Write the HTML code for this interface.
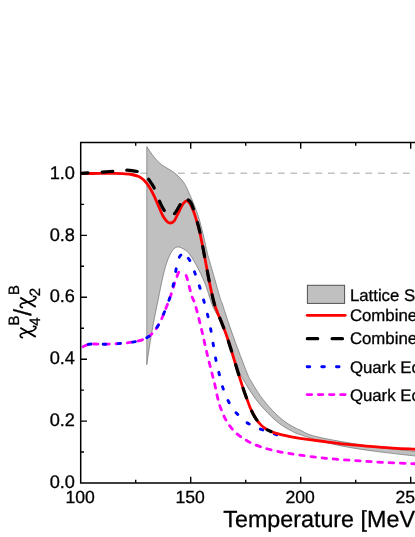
<!DOCTYPE html>
<html><head><meta charset="utf-8"><title>chart</title>
<style>
html,body{margin:0;padding:0;background:#fff;}
body{width:415px;height:537px;overflow:hidden;font-family:"Liberation Sans",sans-serif;}
svg{display:block;font-family:"Liberation Sans",sans-serif;text-rendering:geometricPrecision;}
text{stroke:#000;stroke-width:0.3px;}
</style></head><body>
<svg style="will-change:transform" width="415" height="537" viewBox="0 0 415 537">
<rect width="415" height="537" fill="#fff"/>
<defs><clipPath id="pc"><rect x="80.7" y="142.5" width="340" height="340.5"/></clipPath></defs>
<g clip-path="url(#pc)">
<path d="M81,173.25 H416" stroke="#c2c2c2" stroke-width="1.5" stroke-dasharray="6.75 5.75" stroke-dashoffset="3.05" fill="none"/>
<path d="M146.80,146.60 C147.37,147.47 148.92,149.98 150.20,151.80 C151.48,153.62 153.20,155.88 154.50,157.50 C155.80,159.12 156.80,160.28 158.00,161.50 C159.20,162.72 160.48,163.87 161.70,164.80 C162.92,165.73 164.10,166.37 165.30,167.10 C166.50,167.83 167.70,168.47 168.90,169.20 C170.10,169.93 171.30,170.65 172.50,171.50 C173.70,172.35 174.85,173.22 176.10,174.30 C177.35,175.38 178.78,176.72 180.00,178.00 C181.22,179.28 182.32,180.45 183.40,182.00 C184.48,183.55 185.53,185.40 186.50,187.30 C187.47,189.20 188.52,191.87 189.20,193.40 C189.88,194.93 189.97,195.07 190.60,196.50 C191.23,197.93 192.15,199.92 193.00,202.00 C193.85,204.08 194.77,206.50 195.70,209.00 C196.63,211.50 197.67,214.00 198.60,217.00 C199.53,220.00 200.47,223.83 201.30,227.00 C202.13,230.17 202.63,231.83 203.60,236.00 C204.57,240.17 206.22,248.22 207.10,252.00 C207.98,255.78 207.60,254.10 208.90,258.70 C210.20,263.30 213.03,273.05 214.90,279.60 C216.77,286.15 218.87,293.97 220.10,298.00 C221.33,302.03 220.82,299.43 222.30,303.80 C223.78,308.17 226.43,316.75 229.00,324.20 C231.57,331.65 234.57,340.08 237.70,348.50 C240.83,356.92 245.65,369.42 247.80,374.70 C249.95,379.98 248.53,376.70 250.60,380.20 C252.67,383.70 256.58,390.68 260.20,395.70 C263.82,400.72 268.28,406.05 272.30,410.30 C276.32,414.55 280.52,418.28 284.30,421.20 C288.08,424.12 292.38,426.33 295.00,427.80 C297.62,429.27 297.58,428.87 300.00,430.00 C302.42,431.13 305.52,433.22 309.50,434.60 C313.48,435.98 316.68,436.82 323.90,438.30 C331.12,439.78 343.15,441.92 352.80,443.50 C362.45,445.08 371.27,446.48 381.80,447.80 C392.33,449.12 410.30,450.80 416.00,451.40 L416.00,456.10 C410.30,455.43 392.33,453.45 381.80,452.10 C371.27,450.75 362.45,449.68 352.80,448.00 C343.15,446.32 332.70,444.23 323.90,442.00 C315.10,439.77 305.38,436.43 300.00,434.60 C294.62,432.77 295.02,432.83 291.60,431.00 C288.18,429.17 283.52,426.65 279.50,423.60 C275.48,420.55 271.55,416.90 267.50,412.70 C263.45,408.50 258.88,403.32 255.20,398.40 C251.52,393.48 248.20,387.95 245.40,383.20 C242.60,378.45 241.17,376.53 238.40,369.90 C235.63,363.27 231.63,351.30 228.80,343.40 C225.97,335.50 223.70,327.90 221.40,322.50 C219.10,317.10 216.47,313.75 215.00,311.00 C213.53,308.25 213.50,308.25 212.60,306.00 C211.70,303.75 210.45,300.07 209.60,297.50 C208.75,294.93 208.23,292.83 207.50,290.60 C206.77,288.37 205.95,286.07 205.20,284.10 C204.45,282.13 203.75,280.53 203.00,278.80 C202.25,277.07 201.57,275.50 200.70,273.70 C199.83,271.90 198.78,269.87 197.80,268.00 C196.82,266.13 195.93,264.47 194.80,262.50 C193.67,260.53 192.25,258.02 191.00,256.20 C189.75,254.38 188.55,252.80 187.30,251.60 C186.05,250.40 184.72,249.72 183.50,249.00 C182.28,248.28 180.98,247.63 180.00,247.30 C179.02,246.97 178.43,246.88 177.60,247.00 C176.77,247.12 175.93,247.30 175.00,248.00 C174.07,248.70 173.07,249.57 172.00,251.20 C170.93,252.83 169.77,254.95 168.60,257.80 C167.43,260.65 166.22,263.93 165.00,268.30 C163.78,272.67 162.47,278.63 161.30,284.00 C160.13,289.37 159.05,295.33 158.00,300.50 C156.95,305.67 156.00,309.87 155.00,315.00 C154.00,320.13 152.92,326.13 152.00,331.30 C151.08,336.47 150.37,340.45 149.50,346.00 C148.63,351.55 147.25,361.50 146.80,364.60 Z" fill="#c0c0c0" stroke="#6e6e6e" stroke-width="0.7"/>
<path d="M80.70,348.00 C81.08,347.78 82.12,347.17 83.00,346.70 C83.88,346.23 84.90,345.62 86.00,345.20 C87.10,344.78 88.10,344.40 89.60,344.20 C91.10,344.00 92.25,344.00 95.00,344.00 C97.75,344.00 102.23,344.27 106.10,344.20 C109.97,344.13 113.77,343.95 118.20,343.60 C122.63,343.25 128.68,342.73 132.70,342.10 C136.72,341.47 139.70,340.68 142.30,339.80 C144.90,338.92 146.65,337.83 148.30,336.80 C149.95,335.77 151.00,334.80 152.20,333.60 C153.40,332.40 154.13,331.62 155.50,329.60 C156.87,327.58 158.98,324.27 160.40,321.50 C161.82,318.73 162.80,315.92 164.00,313.00 C165.20,310.08 166.43,307.02 167.60,304.00 C168.77,300.98 169.85,298.32 171.00,294.90 C172.15,291.48 173.30,287.08 174.50,283.50 C175.70,279.92 177.23,275.55 178.20,273.40 C179.17,271.25 179.70,271.13 180.30,270.60 C180.90,270.07 181.27,270.10 181.80,270.20" fill="none" stroke="#ff00ff" stroke-width="2.8" stroke-linecap="round" stroke-dasharray="4.5 6.7" stroke-dashoffset="-2.65"/>
<path d="M183.50,271.20 C184.30,272.30 185.28,272.85 186.60,276.80 C187.92,280.75 190.12,290.70 191.40,294.90 C192.68,299.10 193.33,299.15 194.30,302.00 C195.27,304.85 195.92,307.12 197.20,312.00 C198.48,316.88 200.38,324.47 202.00,331.30 C203.62,338.13 205.28,346.17 206.90,353.00 C208.52,359.83 210.40,367.13 211.70,372.30 C213.00,377.47 213.43,378.70 214.70,384.00 C215.97,389.30 217.33,397.93 219.30,404.10 C221.27,410.27 223.70,416.18 226.50,421.00 C229.30,425.82 232.48,429.60 236.10,433.00 C239.72,436.40 243.77,438.98 248.20,441.40 C252.63,443.82 257.48,445.77 262.70,447.50 C267.92,449.23 273.62,450.58 279.50,451.80 C285.38,453.02 290.60,453.75 298.00,454.80 C305.40,455.85 314.77,457.17 323.90,458.10 C333.03,459.03 343.15,459.70 352.80,460.40 C362.45,461.10 371.27,461.73 381.80,462.30 C392.33,462.87 410.30,463.55 416.00,463.80" fill="none" stroke="#ff00ff" stroke-width="2.8" stroke-linecap="round" stroke-dasharray="4.5 6.7" stroke-dashoffset="6.07"/>
<path d="M80.70,348.00 C81.08,347.78 82.12,347.17 83.00,346.70 C83.88,346.23 84.90,345.62 86.00,345.20 C87.10,344.78 88.10,344.40 89.60,344.20 C91.10,344.00 92.25,344.00 95.00,344.00 C97.75,344.00 102.23,344.27 106.10,344.20 C109.97,344.13 113.77,343.95 118.20,343.60 C122.63,343.25 128.68,342.73 132.70,342.10 C136.72,341.47 139.70,340.68 142.30,339.80 C144.90,338.92 146.65,337.83 148.30,336.80 C149.95,335.77 151.00,334.80 152.20,333.60 C153.40,332.40 154.13,331.62 155.50,329.60 C156.87,327.58 158.98,324.27 160.40,321.50 C161.82,318.73 162.80,315.92 164.00,313.00 C165.20,310.08 166.43,307.17 167.60,304.00 C168.77,300.83 170.02,297.33 171.00,294.00 C171.98,290.67 172.70,287.83 173.50,284.00 C174.30,280.17 175.13,274.58 175.80,271.00 C176.47,267.42 176.88,264.87 177.50,262.50 C178.12,260.13 178.83,258.08 179.50,256.80 C180.17,255.52 180.75,255.05 181.50,254.80" fill="none" stroke="#0000ff" stroke-width="2.9" stroke-linecap="round" stroke-dasharray="2.6 12.2" stroke-dashoffset="-8.5"/>
<path d="M181.50,254.80 C182.25,254.55 183.08,254.85 184.00,255.30 C184.92,255.75 186.03,256.63 187.00,257.50 C187.97,258.37 188.47,257.88 189.80,260.50 C191.13,263.12 193.32,268.67 195.00,273.20 C196.68,277.73 198.37,282.88 199.90,287.70 C201.43,292.52 202.87,297.35 204.20,302.10 C205.53,306.85 206.77,311.42 207.90,316.20 C209.03,320.98 210.08,325.95 211.00,330.80 C211.92,335.65 212.57,340.40 213.40,345.30 C214.23,350.20 215.00,355.30 216.00,360.20 C217.00,365.10 218.18,369.90 219.40,374.70 C220.62,379.50 221.72,384.42 223.30,389.00 C224.88,393.58 226.68,398.15 228.90,402.20 C231.12,406.25 233.27,409.68 236.60,413.30 C239.93,416.92 244.48,421.10 248.90,423.90 C253.32,426.70 258.40,428.27 263.10,430.10 C267.80,431.93 274.77,434.10 277.10,434.90" fill="none" stroke="#0000ff" stroke-width="2.9" stroke-linecap="round" stroke-dasharray="2.6 12.2" stroke-dashoffset="6.93"/>
<path d="M80.70,173.60 C83.92,173.57 94.28,173.45 100.00,173.40 C105.72,173.35 111.17,173.25 115.00,173.30 C118.83,173.35 120.23,173.50 123.00,173.70 C125.77,173.90 128.97,174.02 131.60,174.50 C134.23,174.98 136.60,175.52 138.80,176.60 C141.00,177.68 143.00,179.18 144.80,181.00 C146.60,182.82 148.03,184.98 149.60,187.50 C151.17,190.02 152.70,192.97 154.20,196.10 C155.70,199.23 157.17,203.03 158.60,206.30 C160.03,209.57 161.40,213.18 162.80,215.70 C164.20,218.22 165.73,220.18 167.00,221.40 C168.27,222.62 169.23,223.03 170.40,223.00 C171.57,222.97 172.73,222.78 174.00,221.20 C175.27,219.62 176.97,215.50 178.00,213.50 C179.03,211.50 179.37,210.82 180.20,209.20 C181.03,207.58 181.97,205.20 183.00,203.80 C184.03,202.40 185.27,200.87 186.40,200.80 C187.53,200.73 188.57,201.53 189.80,203.40 C191.03,205.27 192.68,209.15 193.80,212.00 C194.92,214.85 195.50,217.10 196.50,220.50 C197.50,223.90 198.47,226.50 199.80,232.40 C201.13,238.30 202.98,248.03 204.50,255.90 C206.02,263.77 207.42,272.18 208.90,279.60 C210.38,287.02 212.17,295.43 213.40,300.40 C214.63,305.37 214.82,305.42 216.30,309.40 C217.78,313.38 220.55,319.82 222.30,324.30 C224.05,328.78 225.30,331.97 226.80,336.30 C228.30,340.63 230.17,346.72 231.30,350.30 C232.43,353.88 232.25,353.38 233.60,357.80 C234.95,362.22 237.63,371.17 239.40,376.80 C241.17,382.43 242.88,387.73 244.20,391.60 C245.52,395.47 246.33,397.38 247.30,400.00 C248.27,402.62 249.05,405.02 250.00,407.30 C250.95,409.58 251.92,411.65 253.00,413.70 C254.08,415.75 255.27,417.82 256.50,419.60 C257.73,421.38 259.02,422.97 260.40,424.40 C261.78,425.83 263.22,427.08 264.80,428.20 C266.38,429.32 268.12,430.27 269.90,431.10 C271.68,431.93 273.50,432.57 275.50,433.20 C277.50,433.83 279.48,434.33 281.90,434.90 C284.32,435.47 286.98,436.03 290.00,436.60 C293.02,437.17 294.35,437.48 300.00,438.30 C305.65,439.12 315.10,440.40 323.90,441.50 C332.70,442.60 343.15,443.93 352.80,444.90 C362.45,445.87 371.27,446.57 381.80,447.30 C392.33,448.03 410.30,448.97 416.00,449.30" fill="none" stroke="#ff0000" stroke-width="2.8"/>
<path d="M80.70,173.30 C83.08,173.17 90.12,172.80 95.00,172.50 C99.88,172.20 105.83,171.80 110.00,171.50 C114.17,171.20 117.25,170.92 120.00,170.70 C122.75,170.48 124.50,170.22 126.50,170.20 C128.50,170.18 129.95,170.32 132.00,170.60 C134.05,170.88 136.97,171.33 138.80,171.90 C140.63,172.47 141.43,172.85 143.00,174.00 C144.57,175.15 146.78,177.22 148.20,178.80 C149.62,180.38 150.42,181.82 151.50,183.50 C152.58,185.18 153.70,186.90 154.70,188.90 C155.70,190.90 156.65,193.33 157.50,195.50 C158.35,197.67 158.97,199.90 159.80,201.90 C160.63,203.90 161.67,205.93 162.50,207.50 C163.33,209.07 164.05,210.13 164.80,211.30 C165.55,212.47 166.22,213.67 167.00,214.50 C167.78,215.33 168.75,216.02 169.50,216.30 C170.25,216.58 170.83,216.43 171.50,216.20 C172.17,215.97 172.58,215.93 173.50,214.90 C174.42,213.87 175.92,211.68 177.00,210.00 C178.08,208.32 178.97,206.30 180.00,204.80 C181.03,203.30 182.00,201.90 183.20,201.00 C184.40,200.10 186.53,199.67 187.20,199.40" fill="none" stroke="#000" stroke-width="3.2" stroke-linecap="round" stroke-dasharray="10.4 14.2" stroke-dashoffset="3.05"/>
<path d="M187.20,199.40 C187.77,199.87 189.43,200.27 190.60,202.20 C191.77,204.13 193.18,208.07 194.20,211.00 C195.22,213.93 195.75,216.27 196.70,219.80 C197.65,223.33 198.60,226.18 199.90,232.20 C201.20,238.22 203.00,248.00 204.50,255.90 C206.00,263.80 207.42,272.18 208.90,279.60 C210.38,287.02 212.17,295.43 213.40,300.40 C214.63,305.37 214.82,305.42 216.30,309.40 C217.78,313.38 220.55,319.82 222.30,324.30 C224.05,328.78 225.30,331.97 226.80,336.30 C228.30,340.63 230.17,346.72 231.30,350.30 C232.43,353.88 232.25,353.38 233.60,357.80 C234.95,362.22 237.63,371.17 239.40,376.80 C241.17,382.43 242.88,387.73 244.20,391.60 C245.52,395.47 246.33,397.38 247.30,400.00 C248.27,402.62 249.05,405.02 250.00,407.30 C250.95,409.58 251.92,411.65 253.00,413.70 C254.08,415.75 255.27,417.82 256.50,419.60 C257.73,421.38 259.02,422.97 260.40,424.40 C261.78,425.83 263.53,427.23 264.80,428.20 C266.07,429.17 266.97,429.65 268.00,430.20 C269.03,430.75 270.50,431.28 271.00,431.50" fill="none" stroke="#000" stroke-width="3.2" stroke-linecap="round" stroke-dasharray="10.4 14.2" stroke-dashoffset="-1.3"/>
</g>
<path d="M80.7,483.0 V142.5 H416 M80.7,483.0 H416" fill="none" stroke="#000" stroke-width="1.5" stroke-linejoin="miter" stroke-linecap="square"/>
<path d="M190.70,483.00 v-6.3 M190.70,142.50 v6.3 M300.70,483.00 v-6.3 M300.70,142.50 v6.3 M410.70,483.00 v-6.3 M410.70,142.50 v6.3 M135.70,483.00 v-3.3 M135.70,142.50 v3.3 M245.70,483.00 v-3.3 M245.70,142.50 v3.3 M355.70,483.00 v-3.3 M355.70,142.50 v3.3 M80.70,421.09 h6.3 M80.70,359.18 h6.3 M80.70,297.27 h6.3 M80.70,235.36 h6.3 M80.70,173.45 h6.3 M80.70,452.05 h3.3 M80.70,390.14 h3.3 M80.70,328.23 h3.3 M80.70,266.32 h3.3 M80.70,204.41 h3.3" fill="none" stroke="#000" stroke-width="1.4"/>
<g font-size="17.6px" fill="#000"><text x="75.0" y="488.20" text-anchor="end" font-size="18.2px">0.0</text><text x="75.0" y="426.29" text-anchor="end" font-size="18.2px">0.2</text><text x="75.0" y="364.38" text-anchor="end" font-size="18.2px">0.4</text><text x="75.0" y="302.47" text-anchor="end" font-size="18.2px">0.6</text><text x="75.0" y="240.56" text-anchor="end" font-size="18.2px">0.8</text><text x="75.0" y="178.65" text-anchor="end" font-size="18.2px">1.0</text><text x="80.20" y="502.8" text-anchor="middle">100</text><text x="190.20" y="502.8" text-anchor="middle">150</text><text x="300.20" y="502.8" text-anchor="middle">200</text><text x="410.20" y="502.8" text-anchor="middle">250</text></g>
<text x="223.3" y="527.2" font-size="23.3px" fill="#000">Temperature [MeV]</text>
<g fill="none" stroke="#000" stroke-linecap="butt">
<path d="M20.3,327.75 L35.75,336.85" stroke-width="1.95"/>
<path d="M23.00,337.75 C22.70,337.67 21.66,337.56 21.20,337.25 C20.74,336.94 20.32,336.39 20.25,335.90 C20.18,335.41 20.48,334.72 20.80,334.30 C21.12,333.88 21.60,333.62 22.20,333.40 C22.80,333.18 23.43,333.25 24.40,333.00 C25.37,332.75 26.80,332.22 28.00,331.90 C29.20,331.58 30.57,331.45 31.60,331.10 C32.63,330.75 33.48,330.33 34.20,329.80 C34.93,329.27 35.78,328.48 35.95,327.95 C36.12,327.42 35.73,326.86 35.20,326.60 C34.68,326.34 33.20,326.43 32.80,326.40" stroke-width="1.65"/>
</g>
<g transform="translate(0,-30.05)" fill="none" stroke="#000" stroke-linecap="butt">
<path d="M20.3,327.75 L35.75,336.85" stroke-width="1.95"/>
<path d="M23.00,337.75 C22.70,337.67 21.66,337.56 21.20,337.25 C20.74,336.94 20.32,336.39 20.25,335.90 C20.18,335.41 20.48,334.72 20.80,334.30 C21.12,333.88 21.60,333.62 22.20,333.40 C22.80,333.18 23.43,333.25 24.40,333.00 C25.37,332.75 26.80,332.22 28.00,331.90 C29.20,331.58 30.57,331.45 31.60,331.10 C32.63,330.75 33.48,330.33 34.20,329.80 C34.93,329.27 35.78,328.48 35.95,327.95 C36.12,327.42 35.73,326.86 35.20,326.60 C34.68,326.34 33.20,326.43 32.80,326.40" stroke-width="1.65"/>
</g>
<g transform="translate(0,338.2) rotate(-90)" fill="#000">
<text x="12.45" y="40.1" font-size="15px">4</text>
<text x="12.8" y="18.9" font-size="15px">B</text>
<text x="22.5" y="30.8" font-size="24.6px">/</text>
<text x="41.95" y="40.1" font-size="15px">2</text>
<text x="43.1" y="18.9" font-size="15px">B</text>
</g>
<rect x="307.4" y="285.3" width="37.2" height="18.1" fill="#c0c0c0" stroke="#525252" stroke-width="1"/>
<path d="M307.2,315.3 H345.2" stroke="#ff0000" stroke-width="2.8" stroke-linecap="round"/>
<path d="M307.3,338.7 H346" stroke="#000" stroke-width="3.2" stroke-linecap="round" stroke-dasharray="10.4 14.4"/>
<path d="M307.15,366.7 H341" stroke="#0000ff" stroke-width="2.9" stroke-linecap="round" stroke-dasharray="2.6 12.05"/>
<path d="M307.15,394.6 H345.2" stroke="#ff00ff" stroke-width="2.9" stroke-linecap="round" stroke-dasharray="4.5 6.66"/>
<g font-size="16.8px" fill="#000">
<text x="349.9" y="301">Lattice Simulation</text>
<text x="349.9" y="321.2">Combined EoS</text>
<text x="349.9" y="344.3">Combined EoS</text>
<text x="349.9" y="372.7">Quark EoS</text>
<text x="349.9" y="400.7">Quark EoS</text>
</g>
</svg>
</body></html>
